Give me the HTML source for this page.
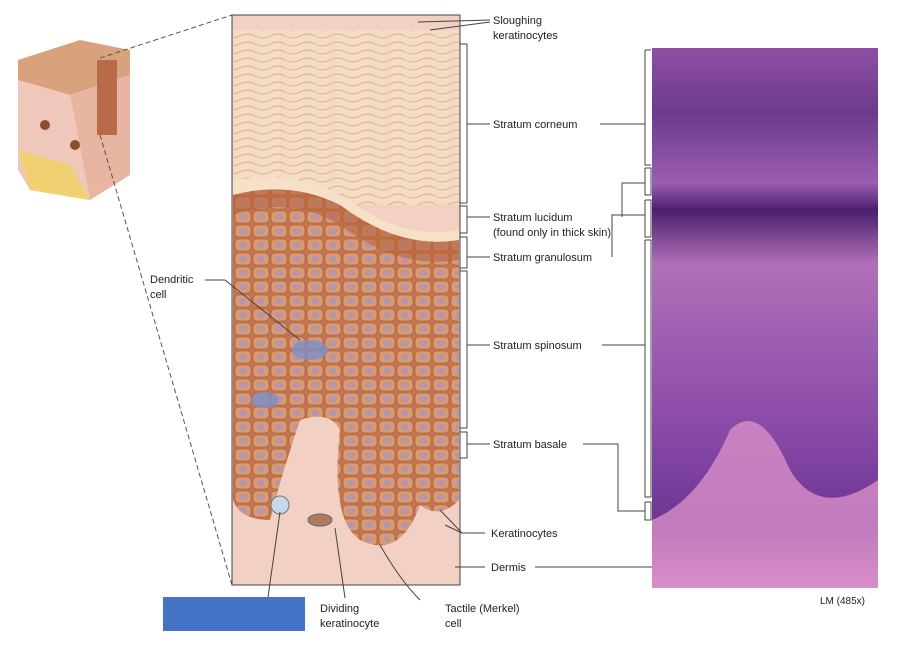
<!DOCTYPE html>
<html><head><style>
body{margin:0;background:#fff;width:900px;height:650px;overflow:hidden}
svg text{font-family:"Liberation Sans",sans-serif;font-size:11px;fill:#222}
</style></head><body>
<svg width="900" height="650" xmlns="http://www.w3.org/2000/svg">
<defs>
<linearGradient id="hist" x1="0" y1="0" x2="0" y2="1">
<stop offset="0" stop-color="#8e4fa3"/><stop offset="0.12" stop-color="#6c3a8c"/>
<stop offset="0.25" stop-color="#9b5eb0"/><stop offset="0.3" stop-color="#4a1f6e"/>
<stop offset="0.4" stop-color="#b070b8"/><stop offset="0.7" stop-color="#8a4aa8"/>
<stop offset="0.9" stop-color="#6a3390"/><stop offset="1" stop-color="#d890c8"/>
</linearGradient>
<pattern id="cells" width="18" height="14" patternUnits="userSpaceOnUse">
<rect width="18" height="14" fill="#c27550"/>
<rect x="1" y="1" width="16" height="12" rx="4" fill="#d99a72" stroke="#a5583a" stroke-width="0.6"/>
<ellipse cx="9" cy="7" rx="4" ry="3" fill="#b296b0"/>
</pattern>
<pattern id="corn" width="30" height="8" patternUnits="userSpaceOnUse">
<rect width="30" height="8" fill="#f4dcc2"/>
<path d="M0 4 Q8 0 15 4 T30 4" stroke="#d4a080" fill="none" stroke-width="0.7"/>
</pattern>
</defs>
<!-- skin block -->
<polygon points="18,60 80,40 130,50 130,75 70,95 18,80" fill="#d8a37c"/>
<polygon points="18,80 70,95 90,200 30,190 18,170" fill="#efc8bb"/>
<polygon points="70,95 130,75 130,175 90,200" fill="#e8b5a3"/>
<polygon points="18,150 70,165 90,200 30,190" fill="#f0d070"/>
<rect x="97" y="60" width="20" height="75" fill="#b96a48"/>
<circle cx="45" cy="125" r="5" fill="#8a5030"/><circle cx="75" cy="145" r="5" fill="#8a5030"/>
<!-- dashed connectors -->
<line x1="100" y1="58" x2="232" y2="15" stroke="#555" stroke-dasharray="5,3"/>
<line x1="100" y1="135" x2="232" y2="585" stroke="#555" stroke-dasharray="5,3"/>
<!-- central panel -->
<rect x="232" y="15" width="228" height="570" fill="#f2d0c4" stroke="#444"/>
<rect x="233" y="30" width="226" height="175" fill="url(#corn)"/>
<path d="M233 180 Q300 170 350 200 Q400 240 459 230 L459 260 L233 260Z" fill="#f6e0c8"/>
<path d="M233 195 Q290 180 340 205 Q400 250 459 240 L459 500 Q440 520 420 505 Q400 560 360 540 Q330 520 340 430 Q330 410 300 420 Q280 480 270 520 Q240 520 233 500Z" fill="url(#cells)"/>
<path d="M233 195 Q290 180 340 205 Q400 250 459 240 L459 260 Q400 270 340 225 Q290 195 233 215Z" fill="#b8643e" opacity="0.6"/>
<ellipse cx="310" cy="350" rx="18" ry="10" fill="#7d8fc8" opacity="0.8"/>
<ellipse cx="265" cy="400" rx="14" ry="8" fill="#7d8fc8" opacity="0.8"/>
<circle cx="280" cy="505" r="9" fill="#c8d8e8" stroke="#777"/>
<ellipse cx="320" cy="520" rx="12" ry="6" fill="#b07a60" stroke="#666"/>
<!-- brackets center -->
<g stroke="#444" fill="none" stroke-width="1">
<path d="M460 44 H467 V203 H460 M467 124 H490"/>
<path d="M460 206 H467 V233 H460 M467 217 H490"/>
<path d="M460 237 H467 V268 H460 M467 257 H490"/>
<path d="M460 271 H467 V428 H460 M467 345 H490"/>
<path d="M460 432 H467 V458 H460 M467 444 H490"/>
<path d="M600 124 H645 M645 50 H651 M645 50 V165 H651"/>
<path d="M622 217 V183 H645 M645 168 H651 V195 H645 V168"/>
<path d="M612 257 V215 H645 M645 200 H651 V237 H645 V200"/>
<path d="M602 345 H645 M645 240 H651 V497 H645 V240"/>
<path d="M583 444 H618 V511 H645 M645 502 H651 V520 H645 V502"/>
<path d="M535 567 H655"/>
<path d="M455 567 H485"/>
<path d="M418 22 L490 20 M430 30 L490 22"/>
<path d="M440 510 L462 533 H485 M445 525 L462 533"/>
<path d="M205 280 H225 L300 340"/>
<path d="M280 512 L268 597"/>
<path d="M335 528 L345 598"/>
<path d="M380 545 Q400 580 420 600"/>
</g>
<!-- histology -->
<rect x="652" y="48" width="226" height="540" fill="url(#hist)"/>
<path d="M652 520 Q700 500 730 430 Q760 400 790 470 Q820 520 878 480 V588 H652Z" fill="#d88ec8" opacity="0.8"/>
<!-- labels -->
<text x="493" y="24">Sloughing</text><text x="493" y="39">keratinocytes</text>
<text x="493" y="128">Stratum corneum</text>
<text x="493" y="221">Stratum lucidum</text><text x="493" y="236">(found only in thick skin)</text>
<text x="493" y="261">Stratum granulosum</text>
<text x="493" y="349">Stratum spinosum</text>
<text x="493" y="448">Stratum basale</text>
<text x="491" y="537">Keratinocytes</text>
<text x="491" y="571">Dermis</text>
<text x="150" y="283">Dendritic</text><text x="150" y="298">cell</text>
<text x="320" y="612">Dividing</text><text x="320" y="627">keratinocyte</text>
<text x="445" y="612">Tactile (Merkel)</text><text x="445" y="627">cell</text>
<text x="820" y="604" style="font-size:10px">LM (485x)</text>
<rect x="163" y="597" width="142" height="34" fill="#4472c4"/>
</svg>
</body></html>
